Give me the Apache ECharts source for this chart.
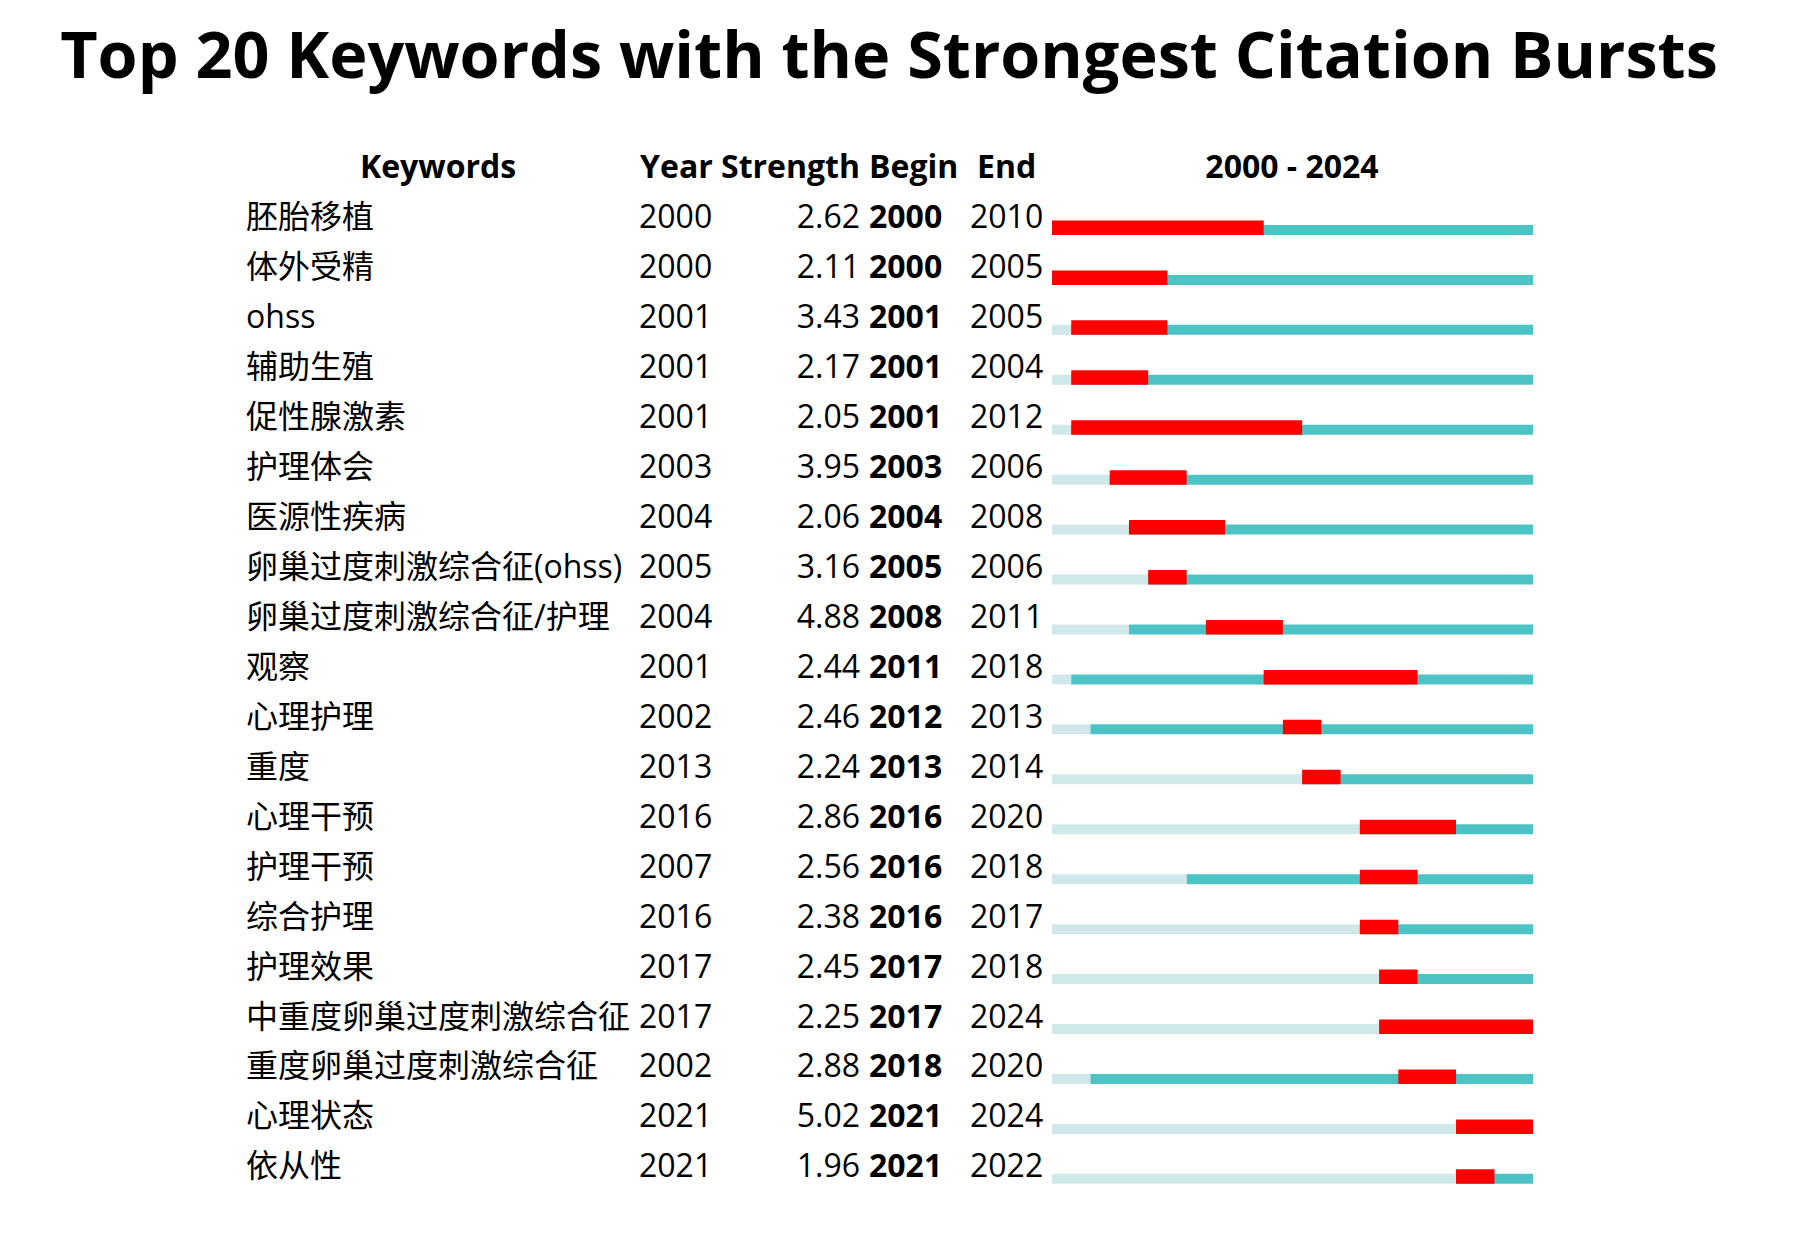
<!DOCTYPE html>
<html>
<head>
<meta charset="utf-8">
<script src="https://cdn.jsdelivr.net/npm/echarts@6/dist/echarts.min.js"></script>
<style>
  html, body { margin: 0; padding: 0; background: #ffffff; }
  #chart { width: 1819px; height: 1240px; }
</style>
</head>
<body>
<div id="chart"></div>
<script>
// ---- data ----
var titleText = 'Top 20 Keywords with the Strongest Citation Bursts';
var headers = ['Keywords', 'Year', 'Strength', 'Begin', 'End', '2000 - 2024'];
var keywords = ['胚胎移植','体外受精','ohss','辅助生殖','促性腺激素','护理体会','医源性疾病',
  '卵巢过度刺激综合征(ohss)','卵巢过度刺激综合征/护理','观察','心理护理','重度','心理干预',
  '护理干预','综合护理','护理效果','中重度卵巢过度刺激综合征','重度卵巢过度刺激综合征','心理状态','依从性'];
var years = [2000,2000,2001,2001,2001,2003,2004,2005,2004,2001,2002,2013,2016,2007,2016,2017,2017,2002,2021,2021];
var strengths = [2.62,2.11,3.43,2.17,2.05,3.95,2.06,3.16,4.88,2.44,2.46,2.24,2.86,2.56,2.38,2.45,2.25,2.88,5.02,1.96];
var begins = [2000,2000,2001,2001,2001,2003,2004,2005,2008,2011,2012,2013,2016,2016,2016,2017,2017,2018,2021,2021];
var ends = [2010,2005,2005,2004,2012,2006,2008,2006,2011,2018,2013,2014,2020,2018,2017,2018,2024,2020,2024,2022];
var rangeStart = 2000;
var rangeEnd = 2024;

// ---- style ----
var FONT = "'Open Sans', 'Noto Sans CJK SC', sans-serif";
var FS = 32;
var RED = '#ff0000', TEAL = '#4cc4c6', LIGHT = '#d1e8ea';
var GRID_LEFT = 1052, GRID_W = 481, GRID_TOP = 191, ROW_H = 49.94;

// fit title width
var ctx = document.createElement('canvas').getContext('2d');
ctx.font = 'bold 100px ' + FONT;
var titleSize = Math.min(72, 100 * 1658 / ctx.measureText(titleText).width);

var rows = keywords.map(function (k, i) { return [i, years[i], begins[i], ends[i], strengths[i]]; });

function txt(text, x, y, align, bold) {
  return {
    type: 'text',
    style: {
      text: text, x: x, y: y,
      textAlign: align, align: align,
      textVerticalAlign: 'middle', verticalAlign: 'middle',
      font: (bold ? 'bold ' : '') + FS + 'px ' + FONT,
      fill: '#000'
    }
  };
}

var chart = echarts.init(document.getElementById('chart'), null, { renderer: 'svg' });
chart.setOption({
  backgroundColor: '#ffffff',
  animation: false,
  grid: { left: GRID_LEFT, width: GRID_W, top: GRID_TOP, height: ROW_H * keywords.length },
  xAxis: { type: 'value', min: rangeStart, max: rangeEnd + 1, show: false },
  yAxis: {
    type: 'category', data: keywords, inverse: true,
    axisLine: { show: false }, axisTick: { show: false }, splitLine: { show: false },
    axisLabel: {
      show: true, align: 'left', margin: GRID_LEFT - 246,
      fontFamily: FONT, fontSize: FS, color: '#000'
    }
  },
  graphic: [
    { type: 'text', style: { text: titleText, x: 889, y: 53, textAlign: 'center', align: 'center',
        textVerticalAlign: 'middle', verticalAlign: 'middle',
        font: 'bold ' + titleSize + 'px ' + FONT, fill: '#000' } },
    txt(headers[0], 438, 165, 'center', true),
    txt(headers[1], 640, 165, 'left', true),
    txt(headers[2], 860, 165, 'right', true),
    txt(headers[3], 869, 165, 'left', true),
    txt(headers[4], 977, 165, 'left', true),
    txt(headers[5], 1292, 165, 'center', true)
  ],
  series: [
    {
      type: 'custom',
      clip: false,
      data: rows,
      renderItem: function (params, api) {
        var idx = api.value(0), yr = api.value(1), b = api.value(2), e = api.value(3);
        var c0 = api.coord([rangeStart, idx]);
        var cy = api.coord([yr, idx]);
        var cEnd = api.coord([rangeEnd + 1, idx]);
        var cb = api.coord([b, idx]);
        var ce = api.coord([e + 1, idx]);
        var yc = c0[1];
        var children = [];
        if (cy[0] > c0[0]) {
          children.push({ type: 'rect', shape: { x: c0[0], y: yc + 9, width: cy[0] - c0[0], height: 10 }, style: { fill: LIGHT } });
        }
        children.push({ type: 'rect', shape: { x: cy[0], y: yc + 9, width: cEnd[0] - cy[0], height: 10 }, style: { fill: TEAL } });
        children.push({ type: 'rect', shape: { x: cb[0], y: yc + 4.5, width: ce[0] - cb[0], height: 14.5 }, style: { fill: RED } });
        return { type: 'group', children: children };
      }
    },
    {
      type: 'custom',
      clip: false,
      data: rows,
      renderItem: function (params, api) {
        var idx = api.value(0);
        var yc = api.coord([rangeStart, idx])[1];
        return {
          type: 'group',
          children: [
            txt(String(api.value(1)), 639, yc, 'left', false),
            txt(api.value(4).toFixed(2), 860, yc, 'right', false),
            txt(String(api.value(2)), 869, yc, 'left', true),
            txt(String(api.value(3)), 970, yc, 'left', false)
          ]
        };
      }
    }
  ]
});
</script>
</body>
</html>
